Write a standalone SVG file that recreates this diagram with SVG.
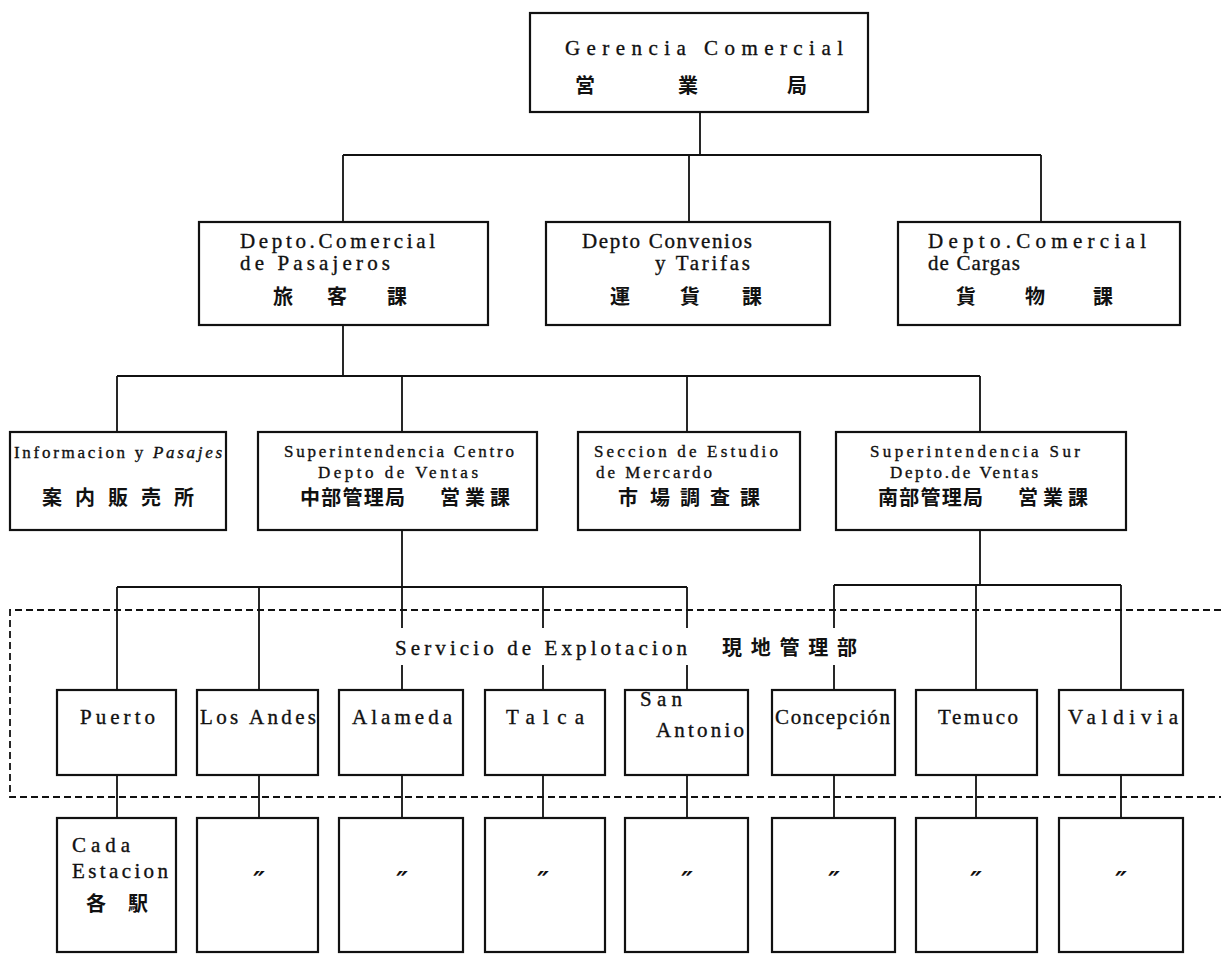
<svg xmlns="http://www.w3.org/2000/svg" width="1221" height="954" viewBox="0 0 1221 954">
  <style>
    .box { fill: #fff; stroke: #111; stroke-width: 2.2; }
    .ln { fill: none; stroke: #111; stroke-width: 1.8; }
    .dash { fill: none; stroke: #111; stroke-width: 1.8; stroke-dasharray: 7 4; }
    .lat { font-family: "Liberation Serif", "Times New Roman", serif; font-size: 21px; fill: #111; stroke: #111; stroke-width: 0.35; }
    .sm { font-size: 17px; }
    .cjk { font-family: "Noto Sans CJK JP", "Noto Sans CJK SC", sans-serif; font-size: 20px; font-weight: bold; fill: #111; }
    .mid { text-anchor: middle; }
    .ditto { font-family: "DejaVu Serif", "Liberation Serif", serif; font-size: 26px; font-style: italic; font-weight: bold; fill: #111; text-anchor: middle; }
  </style>

  <!-- connectors -->
  <g id="connectors">
    <!-- head office to departments -->
    <path class="ln" d="M700 112 V155 M343 155 H1041 M343 155 V222 M689 155 V222 M1041 155 V222"/>
    <!-- passenger department to its sections -->
    <path class="ln" d="M343 325 V376 M117 376 H980 M117 376 V432 M402 376 V432 M687 376 V432 M980 376 V432"/>
    <!-- central superintendency to stations -->
    <path class="ln" d="M402 530 V587 M117 587 H687 M117 587 V690 M259 587 V690 M402 587 V628 M402 665 V690 M543 587 V628 M543 665 V690 M687 587 V628 M687 665 V690"/>
    <!-- southern superintendency to stations -->
    <path class="ln" d="M980 530 V585 M834 585 H1121 M834 585 V628 M834 665 V690 M976 585 V690 M1121 585 V690"/>
    <!-- stations to individual stations -->
    <path class="ln" d="M117 775 V818 M259 775 V818 M402 775 V818 M543 775 V818 M687 775 V818 M834 775 V818 M976 775 V818 M1121 775 V818"/>
    <!-- field operations area -->
    <path class="dash" d="M1221 610 H10 V797 H1221"/>
  </g>

  <!-- head office -->
  <g id="gerencia">
    <rect class="box" x="530" y="13" width="338" height="99"/>
    <text class="lat" x="565" y="55" font-size="22" textLength="278" lengthAdjust="spacing">Gerencia Comercial</text>
    <text class="cjk mid" x="585 688 797" y="93" font-size="21">営業局</text>
  </g>

  <!-- departments -->
  <g id="pasajeros">
    <rect class="box" x="199" y="222" width="289" height="103"/>
    <text class="lat" x="240" y="248" textLength="195" lengthAdjust="spacing">Depto.Comercial</text>
    <text class="lat" x="240" y="270" textLength="150" lengthAdjust="spacing">de Pasajeros</text>
    <text class="cjk mid" x="283 337 397" y="304">旅客課</text>
  </g>
  <g id="convenios">
    <rect class="box" x="546" y="222" width="284" height="103"/>
    <text class="lat" x="582" y="248" textLength="170" lengthAdjust="spacing">Depto Convenios</text>
    <text class="lat" x="655" y="270" textLength="95" lengthAdjust="spacing">y Tarifas</text>
    <text class="cjk mid" x="620 690 752" y="304">運貨課</text>
  </g>
  <g id="cargas">
    <rect class="box" x="898" y="222" width="282" height="103"/>
    <text class="lat" x="928" y="248" textLength="218" lengthAdjust="spacing">Depto.Comercial</text>
    <text class="lat" x="928" y="270" textLength="92" lengthAdjust="spacing">de Cargas</text>
    <text class="cjk mid" x="966 1035 1103" y="304">貨物課</text>
  </g>

  <!-- sections -->
  <g id="informacion">
    <rect class="box" x="10" y="432" width="216" height="98"/>
    <text class="lat sm" x="14" y="458" textLength="208" lengthAdjust="spacing">Informacion y <tspan font-style="italic">Pasajes</tspan></text>
    <text class="cjk mid" x="52 85 118 151 184" y="505">案内販売所</text>
  </g>
  <g id="centro">
    <rect class="box" x="258" y="432" width="279" height="98"/>
    <text class="lat sm" x="284" y="457" textLength="230" lengthAdjust="spacing">Superintendencia Centro</text>
    <text class="lat sm" x="318" y="478" textLength="160" lengthAdjust="spacing">Depto de Ventas</text>
    <text class="cjk" x="300" y="505" textLength="105" lengthAdjust="spacing">中部管理局</text>
    <text class="cjk" x="440" y="505" textLength="70" lengthAdjust="spacing">営業課</text>
  </g>
  <g id="mercado">
    <rect class="box" x="578" y="432" width="222" height="98"/>
    <text class="lat sm" x="594" y="457" textLength="184" lengthAdjust="spacing">Seccion de Estudio</text>
    <text class="lat sm" x="596" y="478" textLength="116" lengthAdjust="spacing">de Mercardo</text>
    <text class="cjk mid" x="628 660 690 720 750" y="505">市場調査課</text>
  </g>
  <g id="sur">
    <rect class="box" x="836" y="432" width="290" height="98"/>
    <text class="lat sm" x="870" y="457" textLength="210" lengthAdjust="spacing">Superintendencia Sur</text>
    <text class="lat sm" x="890" y="478" textLength="148" lengthAdjust="spacing">Depto.de Ventas</text>
    <text class="cjk" x="878" y="505" textLength="105" lengthAdjust="spacing">南部管理局</text>
    <text class="cjk" x="1018" y="505" textLength="70" lengthAdjust="spacing">営業課</text>
  </g>

  <!-- field operations label -->
  <g id="servicio">
    <text class="lat" x="395" y="655" font-size="20" textLength="292" lengthAdjust="spacing">Servicio de Explotacion</text>
    <text class="cjk" x="722" y="655" font-size="19" textLength="135" lengthAdjust="spacing">現地管理部</text>
  </g>

  <!-- stations -->
  <g id="puerto">
    <rect class="box" x="57" y="690" width="119" height="85"/>
    <text class="lat" x="80" y="724" textLength="75" lengthAdjust="spacing">Puerto</text>
  </g>
  <g id="los-andes">
    <rect class="box" x="197" y="690" width="121" height="85"/>
    <text class="lat" x="200" y="724" textLength="116" lengthAdjust="spacing">Los Andes</text>
  </g>
  <g id="alameda">
    <rect class="box" x="339" y="690" width="124" height="85"/>
    <text class="lat" x="352" y="724" textLength="100" lengthAdjust="spacing">Alameda</text>
  </g>
  <g id="talca">
    <rect class="box" x="485" y="690" width="120" height="85"/>
    <text class="lat" x="506" y="724" textLength="78" lengthAdjust="spacing">Talca</text>
  </g>
  <g id="san-antonio">
    <rect class="box" x="625" y="690" width="123" height="85"/>
    <text class="lat" x="640" y="706" textLength="42" lengthAdjust="spacing">San</text>
    <text class="lat" x="656" y="737" textLength="88" lengthAdjust="spacing">Antonio</text>
  </g>
  <g id="concepcion">
    <rect class="box" x="772" y="690" width="123" height="85"/>
    <text class="lat" x="775" y="724" textLength="115" lengthAdjust="spacing">Concepción</text>
  </g>
  <g id="temuco">
    <rect class="box" x="916" y="690" width="121" height="85"/>
    <text class="lat" x="938" y="724" textLength="80" lengthAdjust="spacing">Temuco</text>
  </g>
  <g id="valdivia">
    <rect class="box" x="1059" y="690" width="124" height="85"/>
    <text class="lat" x="1068" y="724" textLength="110" lengthAdjust="spacing">Valdivia</text>
  </g>

  <!-- individual stations -->
  <g id="cada-puerto">
    <rect class="box" x="57" y="818" width="119" height="134"/>
    <text class="lat" x="72" y="852" textLength="58" lengthAdjust="spacing">Cada</text>
    <text class="lat" x="72" y="878" textLength="96" lengthAdjust="spacing">Estacion</text>
    <text class="cjk mid" x="96 138" y="911">各駅</text>
  </g>
  <g id="cada-los-andes">
    <rect class="box" x="197" y="818" width="121" height="134"/>
    <text class="ditto" x="259" y="890">″</text>
  </g>
  <g id="cada-alameda">
    <rect class="box" x="339" y="818" width="124" height="134"/>
    <text class="ditto" x="402" y="890">″</text>
  </g>
  <g id="cada-talca">
    <rect class="box" x="485" y="818" width="120" height="134"/>
    <text class="ditto" x="543" y="890">″</text>
  </g>
  <g id="cada-san-antonio">
    <rect class="box" x="625" y="818" width="123" height="134"/>
    <text class="ditto" x="687" y="890">″</text>
  </g>
  <g id="cada-concepcion">
    <rect class="box" x="772" y="818" width="123" height="134"/>
    <text class="ditto" x="834" y="890">″</text>
  </g>
  <g id="cada-temuco">
    <rect class="box" x="916" y="818" width="121" height="134"/>
    <text class="ditto" x="976" y="890">″</text>
  </g>
  <g id="cada-valdivia">
    <rect class="box" x="1059" y="818" width="124" height="134"/>
    <text class="ditto" x="1121" y="890">″</text>
  </g>
</svg>
